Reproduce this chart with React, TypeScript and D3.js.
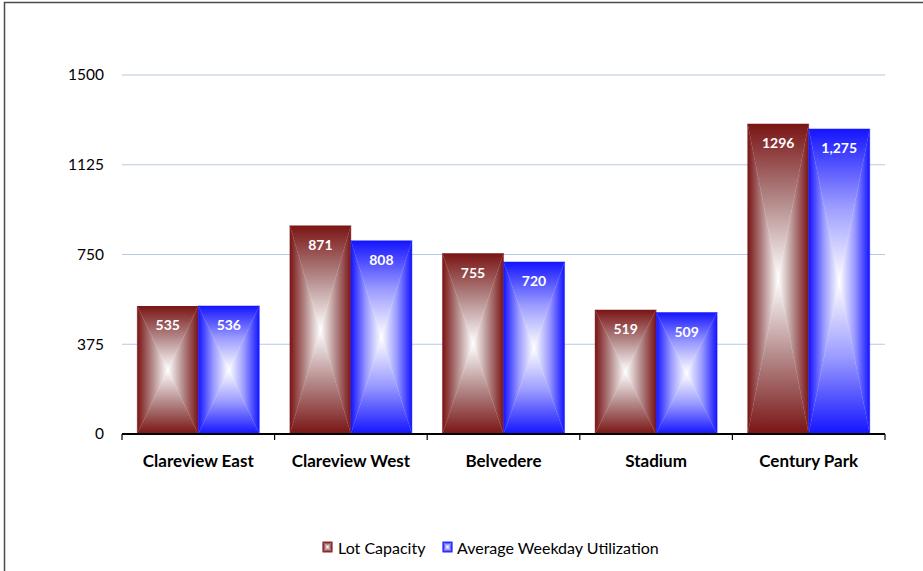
import React from "react";
import * as d3 from "d3";

const categories = ["Clareview East", "Clareview West", "Belvedere", "Stadium", "Century Park"];
const seriesNames = ["Lot Capacity", "Average Weekday Utilization"];
const lotCapacity = [535, 871, 755, 519, 1296];
const weekdayUtilization = [536, 808, 720, 509, 1275];
const lotLabels = ["535", "871", "755", "519", "1296"];
const utilLabels = ["536", "808", "720", "509", "1,275"];
const yTicks = [0, 375, 750, 1125, 1500];

const W = 923;
const H = 571;
const left = 122;
const right = 885;
const top = 75;
const bottom = 434;
const font = "Lato, 'Open Sans', sans-serif";

const palettes = [
  { id: "red", edge: "#7a1414", mid: "#b48a8a", center: "#ffffff", legend: "#8a2a2a" },
  { id: "blue", edge: "#1414ff", mid: "#9a9aff", center: "#ffffff", legend: "#2a2aff" },
];

function Stops({ p }: { p: any }) {
  return (
    <>
      <stop offset={0} stopColor={p.edge} />
      <stop offset={0.5} stopColor={p.mid} />
      <stop offset={1} stopColor={p.center} />
    </>
  );
}

function GradBar({ x, y, w, h, pid }: { x: number; y: number; w: number; h: number; pid: string }) {
  const cx = x + w / 2;
  const cy = y + h / 2;
  const x1 = x + w;
  const y1 = y + h;
  return (
    <g shapeRendering="geometricPrecision">
      <polygon points={`${x},${y} ${x},${y1} ${cx},${cy}`} fill={`url(#${pid}-l)`} stroke={`url(#${pid}-l)`} strokeWidth={0.4} />
      <polygon points={`${x1},${y} ${x1},${y1} ${cx},${cy}`} fill={`url(#${pid}-r)`} stroke={`url(#${pid}-r)`} strokeWidth={0.4} />
      <polygon points={`${x},${y} ${x1},${y} ${cx},${cy}`} fill={`url(#${pid}-t)`} />
      <polygon points={`${x},${y1} ${x1},${y1} ${cx},${cy}`} fill={`url(#${pid}-b)`} />
    </g>
  );
}

export default function App() {
  const x0 = d3.scaleBand<string>().domain(categories).range([left, right]).paddingInner(0.2).paddingOuter(0.1);
  const x1 = d3.scaleBand<number>().domain([0, 1]).range([0, x0.bandwidth()]);
  const y = d3.scaleLinear().domain([0, 1500]).range([bottom, top]);
  const step = (right - left) / categories.length;
  const series = [lotCapacity, weekdayUtilization];
  const labels = [lotLabels, utilLabels];

  return (
    <svg width={W} height={H} style={{ position: "absolute", left: 0, top: 0, background: "#fff" }}>
      <defs>
        {palettes.map((p) => (
          <React.Fragment key={p.id}>
            <linearGradient id={`${p.id}-l`} x1="0" y1="0" x2="1" y2="0">
              <Stops p={p} />
            </linearGradient>
            <linearGradient id={`${p.id}-r`} x1="1" y1="0" x2="0" y2="0">
              <Stops p={p} />
            </linearGradient>
            <linearGradient id={`${p.id}-t`} x1="0" y1="0" x2="0" y2="1">
              <Stops p={p} />
            </linearGradient>
            <linearGradient id={`${p.id}-b`} x1="0" y1="1" x2="0" y2="0">
              <Stops p={p} />
            </linearGradient>
          </React.Fragment>
        ))}
      </defs>
      <rect x={0} y={0} width={W} height={H} fill="#fff" />
      <path d={`M4.5,${H} V2.5 H${W}`} fill="none" stroke="#4a4a4a" strokeWidth={1.5} />

      {yTicks.map((t) => (
        <g key={t}>
          {t > 0 && <line x1={left} x2={right} y1={y(t)} y2={y(t)} stroke="#b8c8e4" strokeWidth={1.2} />}
          <text x={104} y={y(t)} dy="0.35em" textAnchor="end" fontFamily={font} fontSize={15.5} fill="#000">
            {t}
          </text>
        </g>
      ))}

      {categories.map((c, ci) =>
        series.map((vals, si) => {
          const bx = (x0(c) as number) + (x1(si) as number);
          const by = y(vals[ci]);
          const bw = x1.bandwidth();
          const bh = bottom - by;
          return (
            <g key={`${c}-${si}`}>
              <GradBar x={bx} y={by} w={bw} h={bh} pid={palettes[si].id} />
              <text
                x={bx + bw / 2}
                y={by + 24.5}
                textAnchor="middle"
                fontFamily={font}
                fontWeight="bold"
                fontSize={14}
                fill="#fff"
              >
                {labels[si][ci]}
              </text>
            </g>
          );
        })
      )}

      <line x1={left} x2={right} y1={bottom} y2={bottom} stroke="#000" strokeWidth={2} />
      {d3.range(categories.length + 1).map((i) => (
        <line key={i} x1={left + i * step} x2={left + i * step} y1={bottom} y2={bottom + 6} stroke="#000" strokeWidth={1.2} />
      ))}
      {categories.map((c) => (
        <text
          key={c}
          x={(x0(c) as number) + x0.bandwidth() / 2}
          y={467}
          textAnchor="middle"
          fontFamily={font}
          fontWeight="bold"
          fontSize={17}
          fill="#000"
        >
          {c}
        </text>
      ))}

      {(() => {
        const items = [
          { x: 323, tx: 338, name: seriesNames[0], p: palettes[0] },
          { x: 443, tx: 457, name: seriesNames[1], p: palettes[1] },
        ];
        return items.map((it) => (
          <g key={it.name}>
            <GradBar x={it.x} y={542} w={9} h={10} pid={it.p.id} />
            <rect x={it.x} y={542} width={9} height={10} fill="none" stroke={it.p.legend} strokeWidth={1} />
            <text x={it.tx} y={553.5} fontFamily={font} fontSize={16} fill="#000">
              {it.name}
            </text>
          </g>
        ));
      })()}
    </svg>
  );
}
